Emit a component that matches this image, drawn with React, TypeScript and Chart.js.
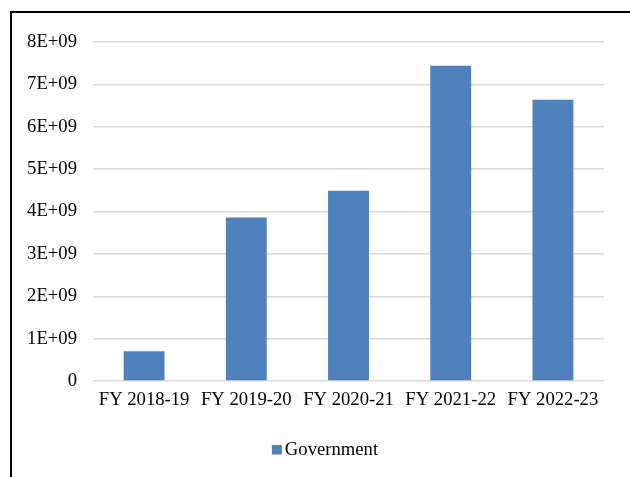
import React, { useEffect, useRef } from "react";
import { Chart, registerables } from "chart.js";

Chart.register(...registerables);

const categories = ["FY 2018-19", "FY 2019-20", "FY 2020-21", "FY 2021-22", "FY 2022-23"];
const governmentValues = [0.7e9, 3.86e9, 4.49e9, 7.44e9, 6.64e9];
const yTickLabels = ["0", "1E+09", "2E+09", "3E+09", "4E+09", "5E+09", "6E+09", "7E+09", "8E+09"];
const seriesName = "Government";
const barColor = "#4f81bd";

const FONT = "'Liberation Serif', 'Times New Roman', serif";
const FONT_SIZE = 18.67;

const customLegend = {
  id: "customLegend",
  afterDraw(chart: any) {
    const ctx = chart.ctx;
    const ds = chart.data.datasets[0];
    ctx.save();
    ctx.font = `${FONT_SIZE}px ${FONT}`;
    const tw = ctx.measureText(ds.label).width;
    const box = 10;
    const gap = 3;
    const total = box + gap + tw;
    const cx = (chart.width + 20) / 2;
    const x0 = cx - total / 2;
    const yTop = chart.chartArea.bottom + 64;
    ctx.fillStyle = ds.backgroundColor;
    ctx.fillRect(x0, yTop, box, 9.5);
    ctx.fillStyle = "#000";
    ctx.textBaseline = "alphabetic";
    ctx.textAlign = "left";
    ctx.fillText(ds.label, x0 + box + gap, yTop + 9.5);
    ctx.restore();
  },
};

export default function App() {
  const ref = useRef<HTMLCanvasElement | null>(null);

  useEffect(() => {
    document.body.style.margin = "0";
    const ctx = ref.current;
    if (!ctx) return;
    const chart = new Chart(ctx, {
      type: "bar",
      data: {
        labels: categories,
        datasets: [
          {
            label: seriesName,
            data: governmentValues,
            backgroundColor: barColor,
            borderWidth: 0,
            barPercentage: 0.4,
            categoryPercentage: 1,
          },
        ],
      },
      plugins: [customLegend],
      options: {
        animation: false,
        responsive: false,
        devicePixelRatio: 1,
        layout: { padding: { top: 42, right: 26, bottom: 0, left: 0 } },
        plugins: {
          tooltip: { enabled: false },
          legend: { display: false },
        },
        scales: {
          x: {
            afterFit: (s: any) => {
              s.height = 96;
            },
            grid: { display: false, drawTicks: false },
            border: { display: false },
            ticks: {
              font: { family: FONT, size: FONT_SIZE },
              color: "#000",
              padding: 8,
              maxRotation: 0,
              autoSkip: false,
            },
          },
          y: {
            min: 0,
            max: 8e9,
            afterFit: (s: any) => {
              s.width = 93;
            },
            grid: { color: "#d9d9d9", lineWidth: 1.5, drawTicks: false },
            border: { display: false },
            ticks: {
              stepSize: 1e9,
              font: { family: FONT, size: FONT_SIZE },
              color: "#000",
              padding: 16,
              callback: (_v: any, i: number) => yTickLabels[i],
            },
          },
        },
      },
    });
    return () => chart.destroy();
  }, []);

  return (
    <div style={{ position: "relative", width: 630, height: 477, overflow: "hidden", background: "#fff" }}>
      <canvas ref={ref} width={630} height={477} style={{ position: "absolute", left: 0, top: 0 }} />
      <div
        style={{
          position: "absolute",
          left: 10,
          top: 11,
          width: 700,
          height: 600,
          borderLeft: "2px solid #000",
          borderTop: "2px solid #000",
          pointerEvents: "none",
        }}
      />
    </div>
  );
}
